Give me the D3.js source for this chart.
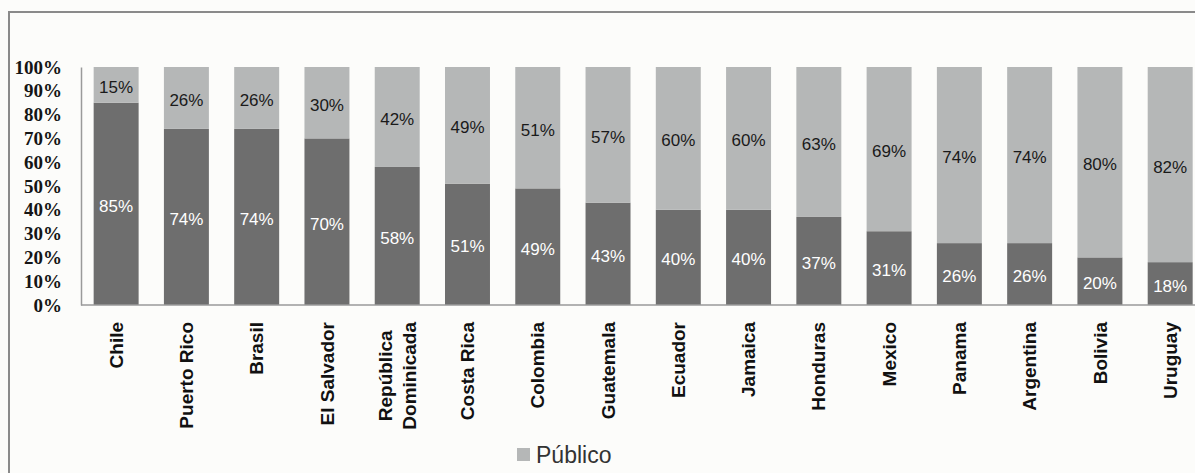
<!DOCTYPE html>
<html>
<head>
<meta charset="utf-8">
<script src="https://cdn.jsdelivr.net/npm/d3@7/dist/d3.min.js"></script>
<style>
  html, body { margin: 0; padding: 0; background: #fcfcfa; }
  svg { display: block; }
</style>
</head>
<body>
<svg id="chart" width="1195" height="473"></svg>
<script>
// Countries, ordered by private share
const categories = [
  "Chile", "Puerto Rico", "Brasil", "El Salvador", "República\nDominicada",
  "Costa Rica", "Colombia", "Guatemala", "Ecuador", "Jamaica",
  "Honduras", "Mexico", "Panama", "Argentina", "Bolivia", "Uruguay"
];
// Share of each sector (%)
const privado = [85, 74, 74, 70, 58, 51, 49, 43, 40, 40, 37, 31, 26, 26, 20, 18];
const publico = [15, 26, 26, 30, 42, 49, 51, 57, 60, 60, 63, 69, 74, 74, 80, 82];
const yTicks = [0, 10, 20, 30, 40, 50, 60, 70, 80, 90, 100];
const legendLabel = "Público";

const colors = { privado: "#6e6e6e", publico: "#b5b7b7" };

const svg = d3.select("#chart");

// outer frame (continues past the right and bottom edges)
svg.append("rect")
  .attr("x", 9).attr("y", 12)
  .attr("width", 1300).attr("height", 600)
  .attr("fill", "#fcfcfa")
  .attr("stroke", "#8a8a8a").attr("stroke-width", 2);

const plot = { left: 81, top: 67, bottom: 305 };
const step = 70.27;

const x = d3.scaleBand()
  .domain(categories)
  .range([plot.left, plot.left + step * categories.length])
  .paddingInner(0.36)
  .paddingOuter(0.18);

const y = d3.scaleLinear().domain([0, 100]).range([plot.bottom, plot.top]);

const rows = categories.map((c, i) => ({ cat: c, privado: privado[i], publico: publico[i] }));
const stack = d3.stack().keys(["privado", "publico"])(rows);

// bars
const layers = svg.append("g").selectAll("g")
  .data(stack).join("g")
  .attr("fill", d => colors[d.key]);

layers.selectAll("rect")
  .data(d => d)
  .join("rect")
  .attr("x", d => x(d.data.cat))
  .attr("y", d => y(d[1]))
  .attr("width", x.bandwidth())
  .attr("height", d => y(d[0]) - y(d[1]));

// value labels
layers.each(function(layer) {
  const dark = layer.key === "privado";
  d3.select(this).selectAll("text")
    .data(layer)
    .join("text")
    .attr("x", d => x(d.data.cat) + x.bandwidth() / 2)
    .attr("y", d => (y(d[0]) + y(d[1])) / 2 + 2)
    .attr("dy", "0.35em")
    .attr("text-anchor", "middle")
    .attr("font-family", "Liberation Sans, Arial, sans-serif")
    .attr("font-size", 17)
    .attr("fill", dark ? "#ffffff" : "#1a1a1a")
    .text(d => (d[1] - d[0]) + "%");
});

// y axis
const yAxis = d3.axisLeft(y).tickValues(yTicks).tickSize(0).tickPadding(19)
  .tickFormat(d => d + "%");
const gy = svg.append("g").attr("transform", `translate(${plot.left},0)`).call(yAxis);
gy.select(".domain").attr("stroke", "#9a9a9a").attr("stroke-width", 1.5);
gy.selectAll("text")
  .attr("font-family", "Liberation Serif, Times New Roman, serif")
  .attr("font-weight", "bold")
  .attr("font-size", 19)
  .attr("fill", "#151515");

// baseline
svg.append("line")
  .attr("x1", plot.left).attr("x2", 1300)
  .attr("y1", plot.bottom).attr("y2", plot.bottom)
  .attr("stroke", "#9a9a9a").attr("stroke-width", 1.5);

// category labels, rotated
const catG = svg.append("g");
categories.forEach(c => {
  const lines = c.split("\n");
  const cx = x(c) + x.bandwidth() / 2;
  const lineH = 24;
  const g = catG.append("g");
  const texts = lines.map((ln, k) => {
    const off = (k - (lines.length - 1) / 2) * lineH;
    return g.append("text")
      .attr("font-family", "Liberation Sans, Arial, sans-serif")
      .attr("font-weight", "bold")
      .attr("font-size", 19)
      .attr("fill", "#111")
      .attr("dy", "0.35em")
      .attr("data-off", off)
      .text(ln);
  });
  const maxLen = d3.max(texts, t => t.node().getComputedTextLength());
  texts.forEach(t => {
    const off = +t.attr("data-off");
    const cy = plot.bottom + 17 + maxLen / 2;
    t.attr("text-anchor", "middle")
      .attr("transform", `translate(${cx + off},${cy}) rotate(-90)`);
  });
});

// legend
const lg = svg.append("g").attr("transform", "translate(517,448)");
lg.append("rect").attr("width", 13).attr("height", 13).attr("fill", colors.publico);
lg.append("text")
  .attr("x", 19).attr("y", 7).attr("dy", "0.35em")
  .attr("font-family", "Liberation Sans, Arial, sans-serif")
  .attr("font-size", 23)
  .attr("fill", "#333")
  .text(legendLabel);
</script>
</body>
</html>
